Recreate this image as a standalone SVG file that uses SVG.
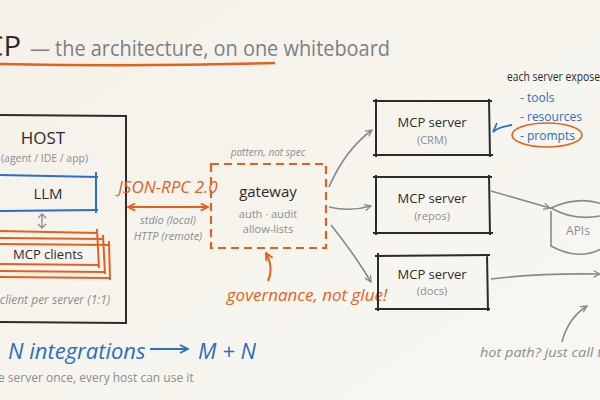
<svg xmlns="http://www.w3.org/2000/svg" width="600" height="400" viewBox="0 0 600 400">
<defs>
<linearGradient id="bg" x1="0" y1="0" x2="1" y2="1">
<stop offset="0" stop-color="#f5f1e9"/>
<stop offset="1" stop-color="#f8f7f2"/>
</linearGradient>
<marker id="ag" viewBox="0 0 10 10" refX="9" refY="5" markerWidth="8" markerHeight="8" orient="auto-start-reverse" markerUnits="userSpaceOnUse">
<path d="M1,1 L9,5 L1,9" fill="none" stroke="#868a90" stroke-width="1.6"/>
</marker>
<marker id="ao" viewBox="0 0 10 10" refX="9" refY="5" markerWidth="9" markerHeight="9" orient="auto-start-reverse" markerUnits="userSpaceOnUse">
<path d="M1,1 L9,5 L1,9" fill="none" stroke="#e0621f" stroke-width="2"/>
</marker>
<marker id="ab" viewBox="0 0 10 10" refX="9" refY="5" markerWidth="10" markerHeight="10" orient="auto" markerUnits="userSpaceOnUse">
<path d="M1,1 L9,5 L1,9" fill="none" stroke="#2a6fc0" stroke-width="1.8"/>
</marker>
</defs>
<style>
text{font-family:"Open Sans","Liberation Sans",sans-serif}
.dark{fill:#2b2b2b}
.gray{fill:#8a8d92}
.ital{font-style:italic}
.org{fill:#e0621f}
.blue{fill:#2a6fc0}
.box{fill:none;stroke:#2b2b2b;stroke-width:2}
.conn{fill:none;stroke:#868a90;stroke-width:1.6}
</style>
<rect width="600" height="400" fill="url(#bg)"/>
<g id="title">
<text x="-15" y="56" font-size="28" class="dark" textLength="36" lengthAdjust="spacingAndGlyphs">CP</text>
<text x="30" y="56" font-size="21" fill="#7a7f88" textLength="360" lengthAdjust="spacingAndGlyphs">— the architecture, on one whiteboard</text>
<path d="M0,64 Q140,67 275,63" fill="none" stroke="#e0621f" stroke-width="2.5"/>
</g>
<g id="host">
<path class="box" d="M-5,115 L126,116 L126,323 L-5,322"/>
<text x="43" y="144" font-size="17" class="dark" text-anchor="middle">HOST</text>
<text x="1" y="162" font-size="11.5" class="gray" textLength="87" lengthAdjust="spacingAndGlyphs">(agent / IDE / app)</text>
</g>
<g id="llm">
<path d="M-5,175 L98,177 M-5,211 L98,210 M96,172 L96,213" fill="none" stroke="#2a6fc0" stroke-width="2"/>
<text x="48" y="199" font-size="15" class="dark" text-anchor="middle">LLM</text>
<path d="M42,214 L42,228 M38,218 L42,214 L46,218 M38,224 L42,228 L46,224" fill="none" stroke="#8a8d92" stroke-width="1.3"/>
</g>
<g id="mcp-clients">
<path d="M-5,231 L98,233 M-5,238 L104,239 M-5,244 L110,245 M-5,264 L98,265 M-5,271 L104,272 M-5,277 L110,278 M97,229 L99,268 M103,235 L105,274 M109,241 L110,280" fill="none" stroke="#e0621f" stroke-width="2"/>
<text x="48" y="259" font-size="13" class="dark" text-anchor="middle">MCP clients</text>
<text x="55" y="304" font-size="12" class="gray ital" text-anchor="middle">client per server (1:1)</text>
</g>
<g id="transport">
<text x="168" y="193" font-size="17" class="org ital" text-anchor="middle">JSON-RPC 2.0</text>
<text x="168" y="224" font-size="11" class="gray ital" text-anchor="middle">stdio (local)</text>
<text x="168" y="240" font-size="11" class="gray ital" text-anchor="middle">HTTP (remote)</text>
</g>
<g id="gateway">
<rect x="211" y="164" width="115" height="84" fill="none" stroke="#e0621f" stroke-width="2.2" stroke-dasharray="8 5"/>
<text x="268" y="156" font-size="10" class="gray ital" text-anchor="middle">pattern, not spec</text>
<text x="268" y="197" font-size="15" class="dark" text-anchor="middle">gateway</text>
<text x="268" y="218" font-size="11" class="gray" text-anchor="middle">auth · audit</text>
<text x="268" y="233" font-size="11" class="gray" text-anchor="middle">allow-lists</text>
<text x="307" y="301" font-size="17" class="org ital" text-anchor="middle">governance, not glue!</text>
</g>
<g id="server-crm">
<path class="box" d="M376,99 L376,157 M489,99 L490,157 M373,101 L492,101 M373,155 L493,155"/>
<text x="432" y="127" font-size="13" class="dark" text-anchor="middle">MCP server</text>
<text x="432" y="144" font-size="11" class="gray" text-anchor="middle">(CRM)</text>
</g>
<g id="server-repos">
<path class="box" d="M376,175 L376,235 M489,175 L490,235 M373,177 L492,177 M373,233 L493,233"/>
<text x="432" y="203" font-size="13" class="dark" text-anchor="middle">MCP server</text>
<text x="432" y="220" font-size="11" class="gray" text-anchor="middle">(repos)</text>
</g>
<g id="server-docs">
<path class="box" d="M378,253 L378,311 M487,254 L488,311 M375,256 L490,255 M375,309 L490,309"/>
<text x="432" y="279" font-size="13" class="dark" text-anchor="middle">MCP server</text>
<text x="432" y="295" font-size="11" class="gray" text-anchor="middle">(docs)</text>
</g>
<g id="apis">
<path d="M551,211 L551,246 Q580,262 605,247 M605,205 Q580,195 551,208 Q575,222 605,215" fill="none" stroke="#868a90" stroke-width="1.6"/>
<text x="578" y="235" font-size="12" class="gray" text-anchor="middle">APIs</text>
</g>
<g id="exposes">
<text x="507" y="81" font-size="12" class="dark" textLength="98" lengthAdjust="spacingAndGlyphs">each server exposes</text>
<text x="520" y="102" font-size="12" class="blue">- tools</text>
<text x="520" y="121" font-size="12" class="blue">- resources</text>
<text x="520" y="140" font-size="12" class="blue">- prompts</text>
<ellipse cx="547" cy="135" rx="35" ry="12" fill="none" stroke="#e0621f" stroke-width="1.6"/>
<path d="M512,125 Q498,127 493,132 L497,123" fill="none" stroke="#2a6fc0" stroke-width="1.8"/>
</g>
<g id="connectors">
<path d="M128,207 L208,207" fill="none" stroke="#e0621f" stroke-width="2.2" marker-start="url(#ao)" marker-end="url(#ao)"/>
<path d="M268,281 Q274,268 266,253" fill="none" stroke="#e0621f" stroke-width="2" marker-end="url(#ao)"/>
<path class="conn" d="M329,187 Q345,150 372,130" marker-end="url(#ag)"/>
<path class="conn" d="M329,207 Q350,212 371,206" marker-end="url(#ag)"/>
<path class="conn" d="M331,225 Q355,255 371,282" marker-end="url(#ag)"/>
<path class="conn" d="M491,191 L550,208" marker-end="url(#ag)"/>
<path class="conn" d="M491,279 Q540,273 600,274" marker-end="url(#ag)"/>
<path class="conn" d="M562,342 Q568,318 587,306" marker-end="url(#ag)"/>
<path d="M150,349 L188,349" fill="none" stroke="#2a6fc0" stroke-width="2" marker-end="url(#ab)"/>
</g>
<g id="notes">
<text x="8" y="359" font-size="22" class="blue ital">N integrations</text>
<text x="198" y="359" font-size="22" class="blue ital">M + N</text>
<text x="-2" y="382" font-size="12" class="gray">e server once, every host can use it</text>
<text x="480" y="357" font-size="12" class="gray ital" textLength="122" lengthAdjust="spacingAndGlyphs">hot path? just call t</text>
</g>
</svg>
